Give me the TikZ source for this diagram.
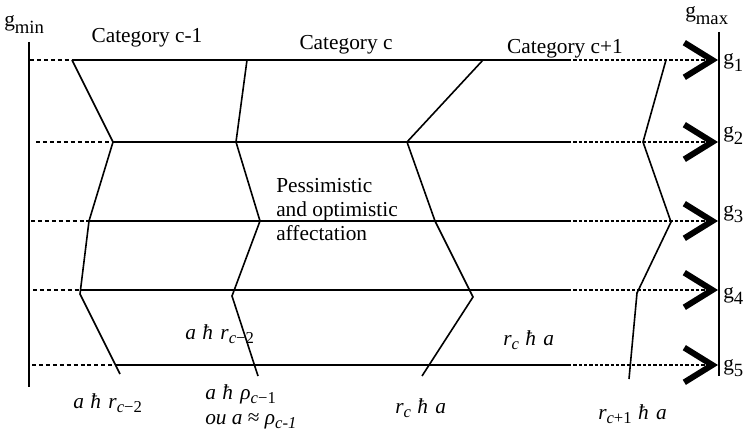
\documentclass[tikz,border=0pt]{standalone}
\usepackage{fontspec}
\setmainfont{Liberation Serif}
\usetikzlibrary{arrows.meta,positioning}
\newcommand{\gsub}[1]{g\raisebox{-5pt}{\fontsize{14}{14}\selectfont #1}}
\newcommand{\isub}[1]{\raisebox{-3.6pt}{\fontsize{12.5}{12.5}\selectfont #1}}
\newcommand{\hb}{\hspace{0.3em}ħ\hspace{0.35em}}
\tikzset{
  cataxis/.style={line width=1.5pt},
  catlevel/.style={line width=1.1pt},
  catdash/.style={line width=1.1pt, dash pattern=on 3pt off 2.2pt},
  catdot/.style={line width=1.3pt, dash pattern=on 2.4pt off 1.6pt, -{Straight Barb[length=21pt,width=26pt,line width=4.5pt]}},
  catedge/.style={line width=1.2pt, line join=miter},
  catlabel/.style={inner sep=0pt, font=\fontsize{16}{18}\selectfont},
  catmath/.style={inner sep=0pt, font=\fontsize{16}{18}\selectfont\itshape}
}
\begin{document}
\begin{tikzpicture}[x=0.75pt,y=-0.75pt]
\useasboundingbox (0,0) rectangle (749,442);

% the two limits
\coordinate (min_top) at (29,42);
\coordinate (min_bot) at (29,387);
\coordinate (max_top) at (719,32);
\coordinate (max_bot) at (719,376);
\draw[cataxis] (min_top) -- (min_bot);
\draw[cataxis, line width=0.9pt] (max_top) -- (max_bot);

% profiles g1 ... g5
\foreach \n/\y/\xs/\xb/\xe in {1/60/30/72/133, 2/142/36/113/112, 3/221/31/89/153, 4/290/33/80/153, 5/365/32/115/200} {
  \coordinate (lev\n_l) at (\xs,\y);
  \coordinate (lev\n_m) at (\xe,\y);
  \coordinate (lev\n_s) at (\xb,\y);
  \coordinate (lev\n_d) at (568,\y);
  \coordinate (lev\n_r) at (718,\y);
  \draw[catlevel] (lev\n_s) -- (lev\n_d);
  \draw[catdash] (lev\n_l) -- (lev\n_m);
  \draw[catdot] (lev\n_d) -- (lev\n_r);
}

% category boundaries
\draw[catedge] (72,60) -- (113,142) -- (89,221) -- (80,294) -- (120,374);
\draw[catedge] (247,60) -- (236,142) -- (260,221) -- (232,296) -- (258,376);
\draw[catedge] (483,60) -- (407,142) -- (435,221) -- (473,297) -- (422,376);
\draw[catedge] (666,60) -- (643,142) -- (671,222) -- (637,293) -- (629,379);

\node[catlabel, anchor=base west] (gmin) at (4,27) {\gsub{min}};
\node[catlabel, anchor=base west] (gmax) at (685,18) {\gsub{max}};
\node[catlabel, anchor=base west] (g1) at (723,65) {\gsub{1}};
\node[catlabel, anchor=base west] (g2) at (723,138) {\gsub{2}};
\node[catlabel, anchor=base west] (g3) at (723,216) {\gsub{3}};
\node[catlabel, anchor=base west] (g4) at (723,298) {\gsub{4}};
\node[catlabel, anchor=base west] (g5) at (723,370) {\gsub{5}};

\node[catlabel, anchor=base] (cat_prev) at (147,43) {Category c-1};
\node[catlabel, anchor=base] (cat_cur) at (346,50) {Category c};
\node[catlabel, anchor=base] (cat_next) at (565,54) {Category c+1};

\node[catlabel, align=left, anchor=north west] (affect) at (276,178) {Pessimistic\\and optimistic\\affectation};

\node[catmath, anchor=base west] (low_prev) at (73,408) {a\hb r\isub{c\textup{−2}}};
\node[catmath, anchor=base west] (mid_prev) at (185,339) {a\hb r\isub{c\textup{−2}}};
\node[catmath, anchor=base west] (low_rho) at (205,399) {a\hb ρ\isub{c\textup{−1}}};
\node[catmath, anchor=base west] (low_ou) at (205,424) {ou a \textup{≈} ρ\isub{c-1}};
\node[catmath, anchor=base west] (low_cur) at (395,413) {r\isub{c}\hb a};
\node[catmath, anchor=base west] (mid_cur) at (503,345) {r\isub{c}\hb a};
\node[catmath, anchor=base west] (low_next) at (598,419) {r\isub{c\textup{+1}}\hb a};
\end{tikzpicture}
\end{document}
